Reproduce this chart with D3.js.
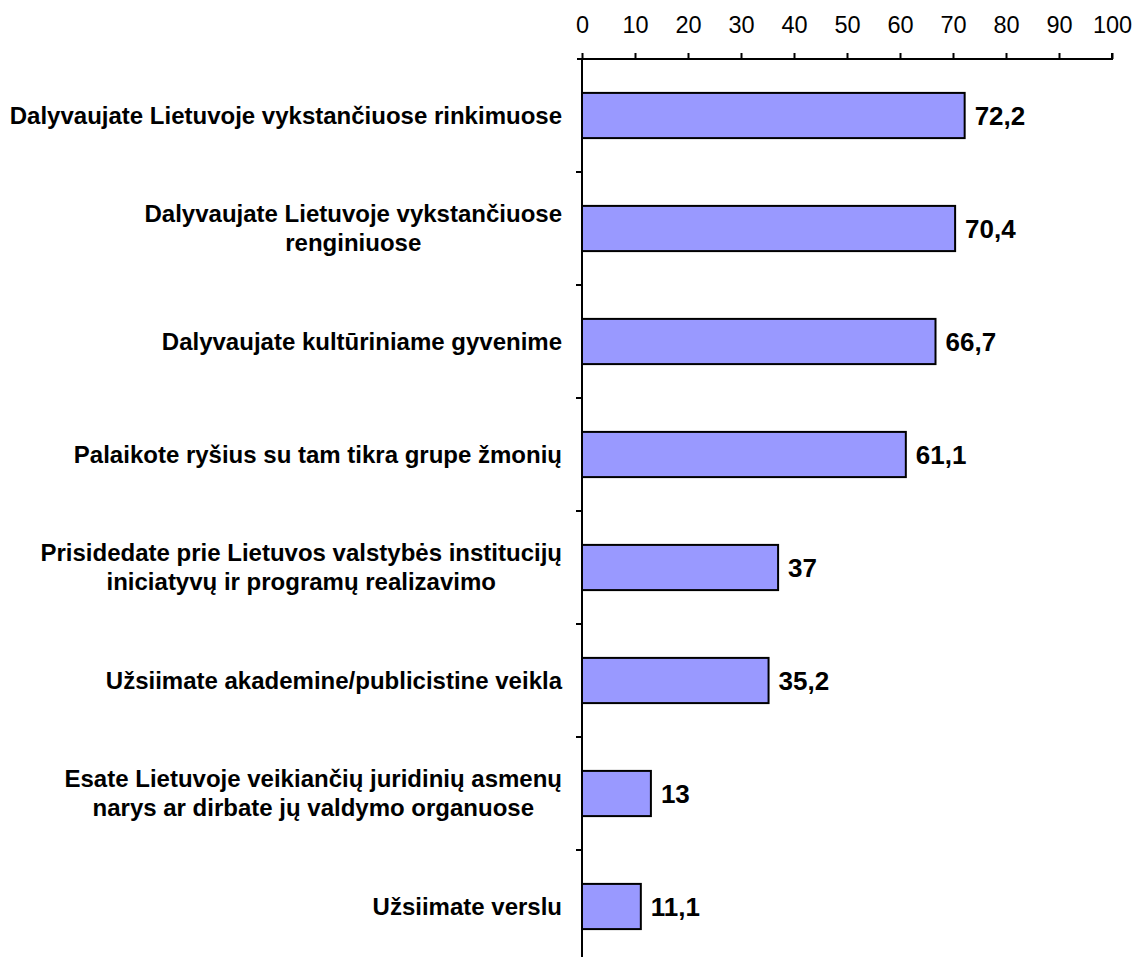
<!DOCTYPE html>
<html>
<head>
<meta charset="utf-8">
<script src="https://cdn.jsdelivr.net/npm/d3@7"></script>
<style>
    body { margin: 0; background: #fff; }
    svg { display: block; }
</style>
</head>
<body>
<svg id="bar" width="1136" height="957"></svg>
<script>
// chart data
var categories = [
    ["Dalyvaujate Lietuvoje vykstančiuose rinkimuose"],
    ["Dalyvaujate Lietuvoje vykstančiuose", "renginiuose"],
    ["Dalyvaujate kultūriniame gyvenime"],
    ["Palaikote ryšius su tam tikra grupe žmonių"],
    ["Prisidedate prie Lietuvos valstybės institucijų", "iniciatyvų ir programų realizavimo"],
    ["Užsiimate akademine/publicistine veikla"],
    ["Esate Lietuvoje veikiančių juridinių asmenų", "narys ar dirbate jų valdymo organuose"],
    ["Užsiimate verslu"]
];
var values = [72.2, 70.4, 66.7, 61.1, 37, 35.2, 13, 11.1];
var valueLabels = ["72,2", "70,4", "66,7", "61,1", "37", "35,2", "13", "11,1"];
var xTicks = [0, 10, 20, 30, 40, 50, 60, 70, 80, 90, 100];

function drawBar() {
    var svg = d3.select("svg#bar"),
        margin = { top: 59, right: 24, bottom: -6, left: 582 },
        width = 1136 - margin.left - margin.right,
        height = 957 - margin.top - margin.bottom,
        g = svg
            .append("g")
            .attr("transform", "translate(" + margin.left + "," + margin.top + ")");

    var idx = d3.range(categories.length);

    var x = d3.scaleLinear().domain([0, 100]).range([0, width]);
    var y = d3.scaleBand().domain(idx).range([0, height]).paddingInner(0.6).paddingOuter(0.3);
    var yb = d3.scaleBand().domain(idx).range([0, height]);

    // top axis
    var xAxis = g.append("g")
        .call(d3.axisTop(x).tickValues(xTicks).tickSize(6).tickPadding(20).tickSizeOuter(6));
    xAxis.select(".domain").attr("stroke", "#000").attr("stroke-width", 2)
        .attr("d", "M-5,0H" + width + "V-6");
    xAxis.selectAll(".tick line").attr("stroke", "#000").attr("stroke-width", 2);
    xAxis.selectAll(".tick text")
        .attr("font-family", "Liberation Sans, Arial, sans-serif")
        .attr("font-size", "23.5px")
        .attr("fill", "#000");

    // left axis line with band ticks
    g.append("line")
        .attr("x1", 0).attr("x2", 0)
        .attr("y1", 0).attr("y2", height)
        .attr("stroke", "#000").attr("stroke-width", 2);
    g.append("g")
        .selectAll("line")
        .data(idx.slice(1))
        .enter()
        .append("line")
        .attr("x1", -6).attr("x2", 0)
        .attr("y1", d => yb(d)).attr("y2", d => yb(d))
        .attr("stroke", "#000").attr("stroke-width", 2);

    // bars
    g.append("g")
        .selectAll("rect")
        .data(values)
        .enter()
        .append("rect")
        .attr("x", 0)
        .attr("y", (d, i) => y(i))
        .attr("width", d => x(d))
        .attr("height", y.bandwidth())
        .attr("fill", "#9999ff")
        .attr("stroke", "#000")
        .attr("stroke-width", 2);

    // value labels
    g.append("g")
        .selectAll("text")
        .data(values)
        .enter()
        .append("text")
        .attr("x", d => x(d) + 10)
        .attr("y", (d, i) => y(i) + y.bandwidth() / 2)
        .attr("dy", "0.36em")
        .attr("font-family", "Liberation Sans, Arial, sans-serif")
        .attr("font-weight", "bold")
        .attr("font-size", "26px")
        .attr("fill", "#000")
        .text((d, i) => valueLabels[i]);

    // category labels (multi-line, centred within a right-aligned block)
    var labels = g.append("g")
        .selectAll("text")
        .data(categories)
        .enter()
        .append("text")
        .attr("font-family", "Liberation Sans, Arial, sans-serif")
        .attr("font-weight", "bold")
        .attr("font-size", "24px")
        .attr("fill", "#000")
        .attr("text-anchor", "middle");

    var lineH = 29;
    labels.each(function(lines, i) {
        var t = d3.select(this);
        var cy = y(i) + y.bandwidth() / 2;
        var widths = lines.map(function(s) {
            var ts = t.append("tspan").text(s);
            var w = ts.node().getComputedTextLength();
            ts.remove();
            return w;
        });
        var cx = -20 - d3.max(widths) / 2;
        lines.forEach(function(s, j) {
            t.append("tspan")
                .attr("x", cx)
                .attr("y", cy + (j - (lines.length - 1) / 2) * lineH)
                .attr("dy", "0.35em")
                .text(s);
        });
    });
}

drawBar();
</script>
</body>
</html>
